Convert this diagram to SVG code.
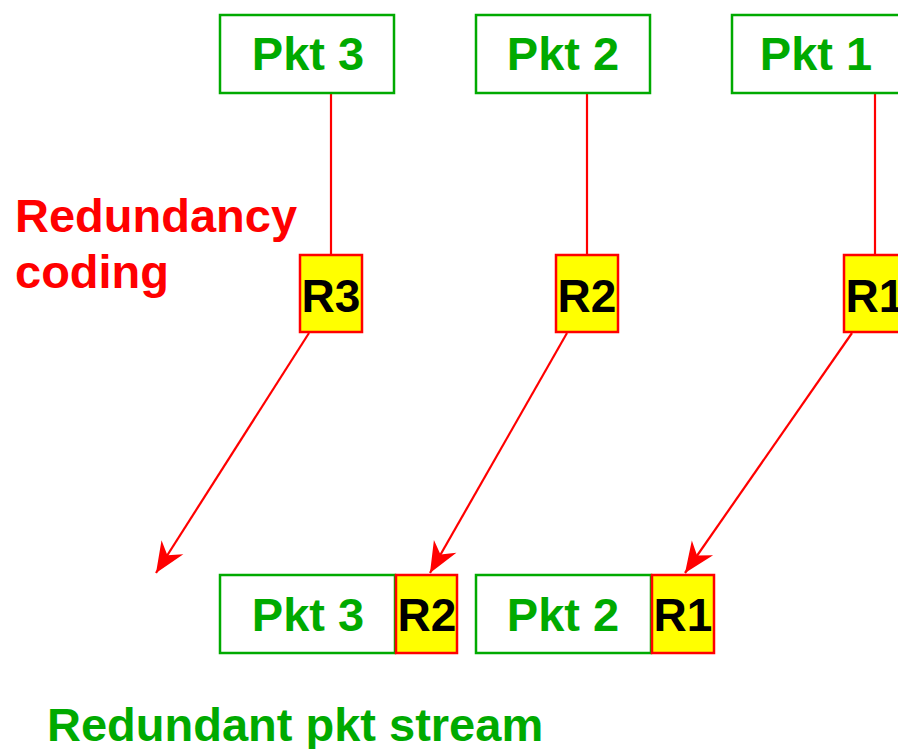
<svg xmlns="http://www.w3.org/2000/svg" width="898" height="749" viewBox="0 0 898 749">
<defs>
<marker id="ah" markerUnits="userSpaceOnUse" markerWidth="40" markerHeight="40" refX="0" refY="0" viewBox="-30 -15 34 30" orient="auto" overflow="visible">
<path d="M0,0 L-26,-11 L-18,0 L-26,11 Z" fill="#ff0000"/>
</marker>
<style>
.pkt{fill:#fff;stroke:#00aa00;stroke-width:2.5}
.red{fill:#ffff00;stroke:#ff0000;stroke-width:2.5}
.pt{font-family:"Liberation Sans",Arial,sans-serif;font-weight:bold;font-size:47px;fill:#00aa00;text-anchor:middle}
.rt{font-family:"Liberation Sans",Arial,sans-serif;font-weight:bold;font-size:46px;fill:#000;text-anchor:middle}
.lbl{font-family:"Liberation Sans",Arial,sans-serif;font-weight:bold;font-size:47px}
.ln{stroke:#ff0000;stroke-width:2.2;fill:none}
</style>
</defs>
<rect width="898" height="749" fill="#fff"/>
<g id="connectors">
<line class="ln" x1="331" y1="93" x2="331" y2="255"/>
<line class="ln" x1="587" y1="93" x2="587" y2="255"/>
<line class="ln" x1="875" y1="93" x2="875" y2="255"/>
<line class="ln" x1="309" y1="333" x2="156" y2="573" marker-end="url(#ah)"/>
<line class="ln" x1="567" y1="333" x2="430" y2="573" marker-end="url(#ah)"/>
<line class="ln" x1="852" y1="333" x2="685" y2="573" marker-end="url(#ah)"/>
</g>
<g id="pkt3-top"><rect class="pkt" x="220" y="15" width="174" height="78"/><text class="pt" x="308" y="70">Pkt 3</text></g>
<g id="pkt2-top"><rect class="pkt" x="476" y="15" width="174" height="78"/><text class="pt" x="563" y="70">Pkt 2</text></g>
<g id="pkt1-top"><rect class="pkt" x="732" y="15" width="174" height="78"/><text class="pt" x="816" y="70">Pkt 1</text></g>
<g id="r3-top"><rect class="red" x="300" y="255" width="62" height="77"/><text class="rt" x="331" y="312">R3</text></g>
<g id="r2-top"><rect class="red" x="556" y="255" width="62" height="77"/><text class="rt" x="587" y="312">R2</text></g>
<g id="r1-top"><rect class="red" x="844" y="255" width="62" height="77"/><text class="rt" x="875" y="312">R1</text></g>
<g id="pkt3-bottom"><rect class="pkt" x="220" y="575" width="175" height="78"/><text class="pt" x="308" y="631">Pkt 3</text></g>
<g id="r2-bottom"><rect class="red" x="396" y="575" width="61" height="78"/><text class="rt" x="427" y="631">R2</text></g>
<g id="pkt2-bottom"><rect class="pkt" x="476" y="575" width="175" height="78"/><text class="pt" x="563" y="631">Pkt 2</text></g>
<g id="r1-bottom"><rect class="red" x="652" y="575" width="62" height="78"/><text class="rt" x="683" y="631">R1</text></g>
<g id="labels">
<text class="lbl" x="15" y="232" fill="#ff0000">Redundancy</text>
<text class="lbl" x="15" y="288" fill="#ff0000">coding</text>
<text class="lbl" x="47" y="741" fill="#00aa00">Redundant pkt stream</text>
</g>
</svg>
